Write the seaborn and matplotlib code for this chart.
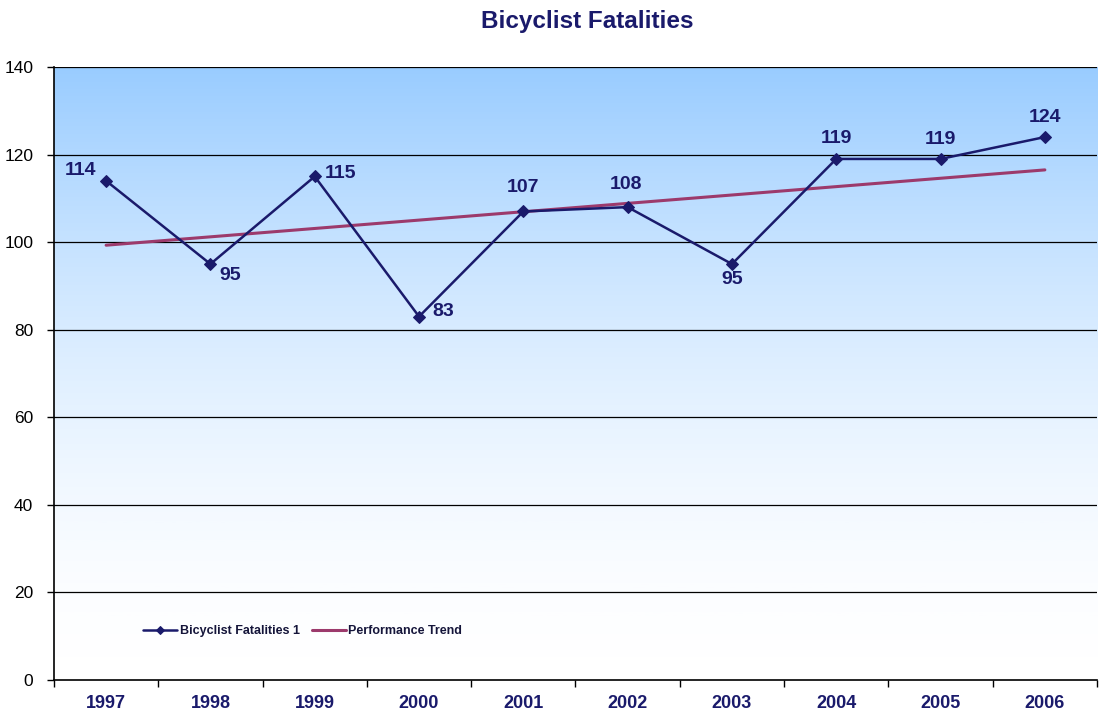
"""Bicyclist fatalities chart, 1997-2006."""

import matplotlib
matplotlib.use("Agg")

import matplotlib.pyplot as plt
import numpy as np
import pandas as pd
import seaborn as sns
from matplotlib.colors import LinearSegmentedColormap
from matplotlib.ticker import FixedLocator

years = [1997, 1998, 1999, 2000, 2001, 2002, 2003, 2004, 2005, 2006]
fatalities = [114, 95, 115, 83, 107, 108, 95, 119, 119, 124]
trend_years = [1997, 2006]
trend_values = [99.3, 116.5]
y_ticks = [0, 20, 40, 60, 80, 100, 120, 140]

NAVY = "#1a1a6b"
TREND = "#9c3a6c"

# label offsets in pixels (dx, dy) relative to each point
label_offsets = [(-26, 10), (20, -11), (26, 3), (24, 5), (0, 24), (-2, 23),
                 (0, -15), (0, 20), (0, 19), (0, 20)]

df = pd.DataFrame({"year": years, "fatalities": fatalities})
trend_df = pd.DataFrame({"year": trend_years, "trend": trend_values})

sns.set_style("white")
plt.rcParams["font.family"] = ["Liberation Sans", "DejaVu Sans"]

fig = plt.figure(figsize=(10.99, 7.18), dpi=100)
ax = fig.add_axes([0.0491, 0.0529, 0.9491, 0.8538])

# gradient background: light blue at top fading to white
cmap = LinearSegmentedColormap.from_list("bg", ["#ffffff", "#99ccff"])
grad = (np.linspace(0, 1, 256) ** 1.7).reshape(-1, 1)
ax.imshow(grad, cmap=cmap, aspect="auto", origin="lower", vmin=0, vmax=1,
          extent=[1996.5, 2006.5, 0, 140], zorder=0)

for yv in y_ticks[1:]:
    ax.axhline(yv, color="black", linewidth=0.9, zorder=1)

sns.lineplot(data=df, x="year", y="fatalities", ax=ax, color=NAVY, linewidth=1.8,
             marker="D", markersize=6, markeredgecolor=NAVY,
             label="Bicyclist Fatalities 1", zorder=4)
sns.lineplot(data=trend_df, x="year", y="trend", ax=ax, color=TREND, linewidth=2.2,
             label="Performance Trend", zorder=3)

for yr, val, (dx, dy) in zip(years, fatalities, label_offsets):
    ax.annotate(str(val), (yr, val), xytext=(dx, dy), textcoords="offset pixels",
                ha="center", va="center", fontsize=14, fontweight="bold", color=NAVY)

ax.set_xlim(1996.5, 2006.5)
ax.set_ylim(0, 140)
ax.set_xticks(years)
ax.set_xticklabels([str(y) for y in years], fontsize=13, fontweight="bold", color=NAVY)
ax.xaxis.set_minor_locator(FixedLocator([y + 0.5 for y in [1996] + years]))
ax.tick_params(axis="x", which="major", length=0, pad=11)
ax.tick_params(axis="x", which="minor", length=5, width=1, color="black", direction="out", bottom=True)
ax.set_yticks(y_ticks)
ax.set_yticklabels([str(v) for v in y_ticks], fontsize=12.5, color="black")
ax.tick_params(axis="y", length=5, width=1, color="black", direction="out", left=True, pad=10)
ax.set_xlabel("")
ax.set_ylabel("")

for side in ["top", "right"]:
    ax.spines[side].set_visible(False)
for side in ["left", "bottom"]:
    ax.spines[side].set_color("black")
    ax.spines[side].set_linewidth(1.2)

leg = ax.legend(loc="lower left", bbox_to_anchor=(0.075, 0.052), ncol=2, frameon=False,
                prop={"size": 9, "weight": "bold"}, handlelength=2.7, columnspacing=1.0,
                handletextpad=0.2, labelcolor="#15153a")
for h in leg.legend_handles:
    h.set_markersize(4)

fig.text(0.534, 0.970, "Bicyclist Fatalities", ha="center", va="center",
         fontsize=17.5, fontweight="bold", color=NAVY)

fig.savefig("out.png", dpi=100)
plt.close(fig)
